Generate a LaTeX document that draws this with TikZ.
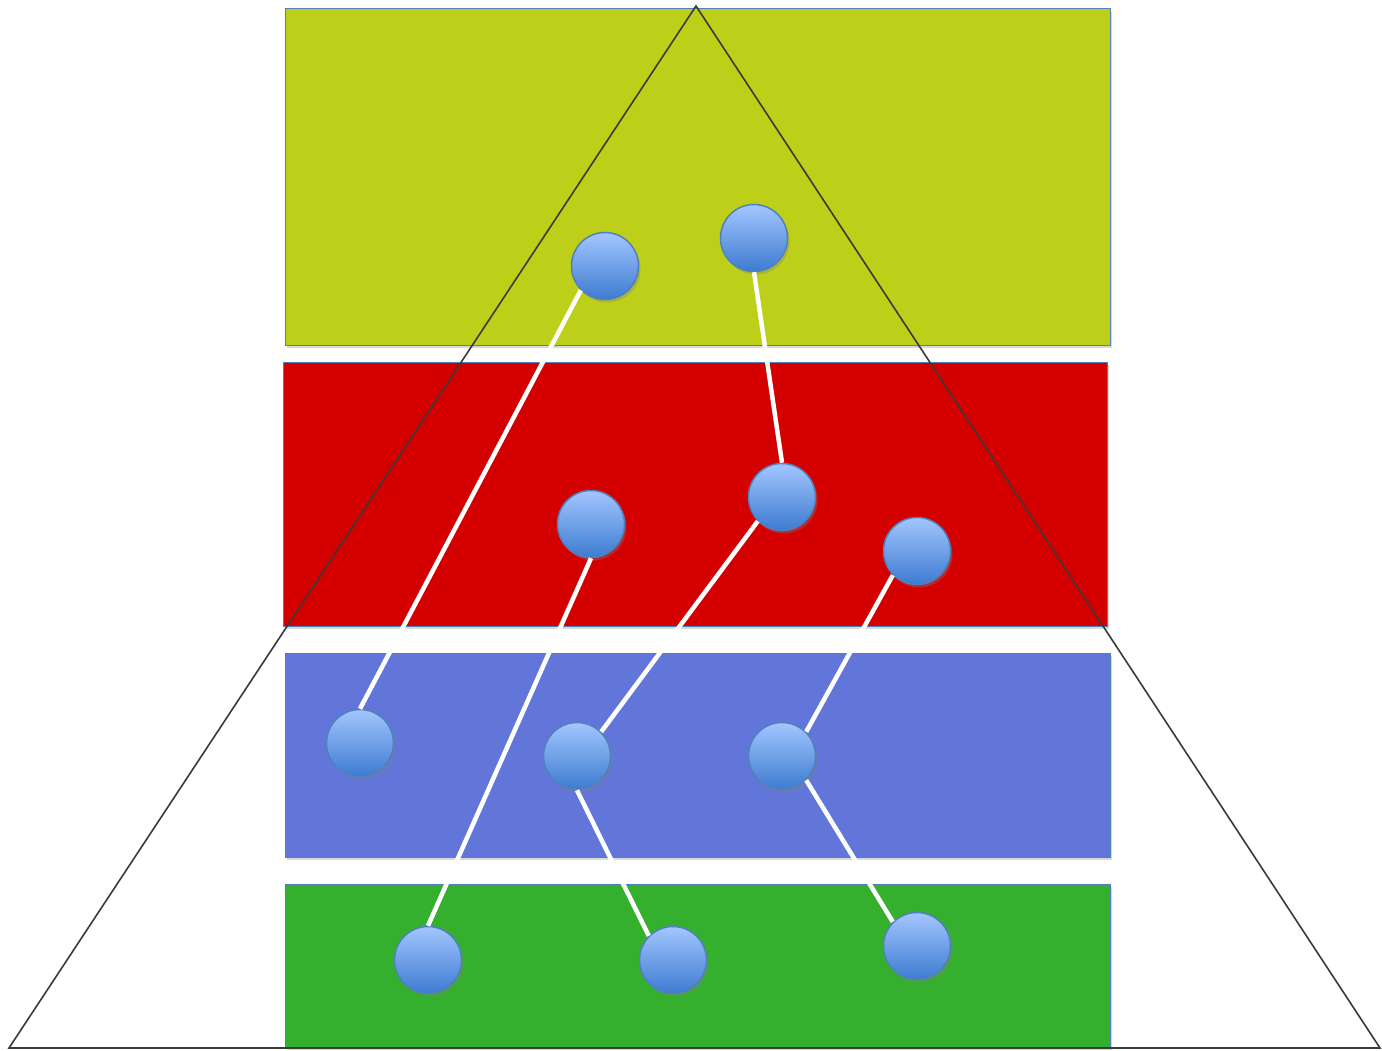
\documentclass[tikz,border=0pt]{standalone}
\usetikzlibrary{shadows}
\definecolor{lime}{HTML}{BDCF18}
\definecolor{redband}{HTML}{D40000}
\definecolor{blueband}{HTML}{6276D9}
\definecolor{greenband}{HTML}{35AF2E}
\definecolor{edgeblue}{HTML}{4F81BD}
\definecolor{ballTop}{HTML}{A3C6FF}
\definecolor{ballBot}{HTML}{3D7BD0}
\definecolor{tri}{HTML}{3A3A3A}
\begin{document}
\begin{tikzpicture}[x=1pt,y=-1pt,
  band/.style={draw=edgeblue,line width=1pt,drop shadow={shadow xshift=2pt,shadow yshift=-3pt,opacity=0.3}},
  ball/.style={circle,minimum size=67pt,inner sep=0pt,draw=edgeblue,line width=1.5pt,
    top color=ballTop,bottom color=ballBot,
    drop shadow={shadow xshift=2pt,shadow yshift=-3pt,opacity=0.35}},
  link/.style={white,line width=4.5pt},
  trio/.style={draw=tri,line width=1.6pt,line join=miter}]
\useasboundingbox (0,0) rectangle (1382,1051);
\fill[white] (0,0) rectangle (1382,1051);
% bands
\path[band,fill=lime] (285,9) rectangle (1110,345);
\path[band,fill=redband] (283,362) rectangle (1107,626);
\path[band,fill=blueband] (285,653) rectangle (1110,857);
\path[band,fill=greenband] (285,884) rectangle (1110,1047);
% triangle
\coordinate (apex) at (696,6);
\coordinate (bl) at (9,1048);
\coordinate (br) at (1380,1048);
\draw[trio] (apex) -- (br) -- (bl) -- cycle;
% links (drawn before balls so balls sit on top)
\coordinate (A) at (605,266);
\coordinate (B) at (754,238);
\coordinate (C) at (591,524);
\coordinate (D) at (782,497);
\coordinate (E) at (917,551);
\coordinate (F) at (360,743);
\coordinate (G) at (577,756);
\coordinate (H) at (782,756);
\coordinate (I) at (428,960);
\coordinate (J) at (673,960);
\coordinate (K) at (917,946);
\node[ball] (nA) at (A) {};
\node[ball] (nB) at (B) {};
\node[ball] (nC) at (C) {};
\node[ball] (nD) at (D) {};
\node[ball] (nE) at (E) {};
\node[ball] (nF) at (F) {};
\node[ball] (nG) at (G) {};
\node[ball] (nH) at (H) {};
\node[ball] (nI) at (I) {};
\node[ball] (nJ) at (J) {};
\node[ball] (nK) at (K) {};
\draw[link] (nA.south west) -- (nF.north);
\draw[link] (nB.south) -- (nD.north);
\draw[link] (nC.south) -- (nI.north);
\draw[link] (nD.south west) -- (nG.north east);
\draw[link] (nE.south west) -- (nH.north east);
\draw[link] (nG.south) -- (nJ.north west);
\draw[link] (nH.south east) -- (nK.north west);
\end{tikzpicture}
\end{document}
